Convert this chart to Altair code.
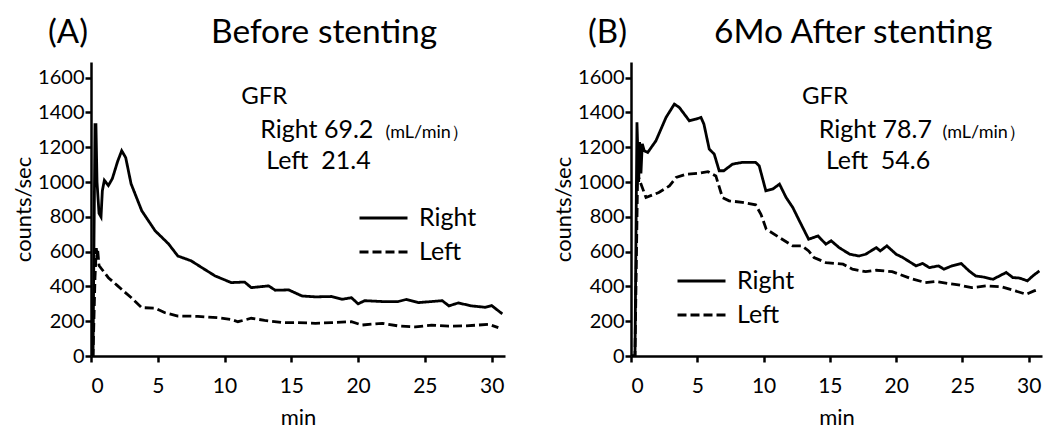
import altair as alt
import pandas as pd

# ---------- data ----------
# Panel A: before stenting
a_right_t = [0, 0.15, 0.3, 0.37, 0.45, 0.6, 0.75, 0.85, 1.0, 1.3, 1.6, 2.0, 2.3, 2.6, 3.0, 3.8, 4.8, 5.8,
             6.5, 7.5, 8.3, 9.3, 10.5, 11.5, 12.0, 13.3, 13.8, 14.8, 15.8, 16.8, 18.0, 18.8, 19.5, 20.0,
             20.5, 21.8, 23.0, 23.6, 24.5, 25.5, 26.3, 26.8, 27.5, 28.5, 29.5, 30.0, 30.8]
a_right_v = [0, 0, 1330, 1330, 1000, 820, 800, 950, 1010, 980, 1020, 1120, 1180, 1140, 990, 835, 720, 645,
             575, 547, 508, 460, 422, 425, 393, 403, 378, 380, 345, 340, 342, 326, 335, 300,
             318, 313, 313, 325, 307, 313, 318, 288, 305, 288, 280, 290, 242]
a_left_t = [0, 0.15, 0.3, 0.4, 0.45, 0.5, 0.6, 1.3, 2.0, 3.0, 3.8, 4.8, 5.5, 6.5, 8.0, 9.5, 10.5, 11.0,
            12.0, 13.0, 14.3, 15.5, 16.8, 18.0, 19.5, 20.3, 21.8, 23.0, 24.3, 25.5, 26.8, 28.0, 29.8, 30.5]
a_left_v = [0, 0, 450, 620, 560, 610, 520, 450, 403, 336, 278, 275, 250, 230, 228, 220, 210, 197,
            217, 205, 192, 192, 188, 192, 197, 178, 188, 173, 167, 178, 172, 173, 182, 163]

# Panel B: 6 months after stenting
b_right_t = [0, 0.3, 0.45, 0.58, 0.65, 0.75, 0.85, 1.0, 1.26, 1.88, 2.64, 3.27, 3.64, 4.4, 4.9, 5.28, 5.5,
             5.9, 6.28, 6.65, 7.0, 7.66, 8.4, 9.4, 9.67, 10.17, 10.7, 11.2, 11.7, 12.2, 12.7, 13.4, 14.1,
             14.7, 15.1, 15.7, 16.5, 17.2, 17.7, 18.5, 18.8, 19.3, 20.0, 20.5, 21.5, 22.0, 22.5, 23.2,
             23.6, 24.2, 24.9, 25.5, 26.0, 26.5, 27.3, 28.3, 28.8, 29.3, 29.9, 30.3, 30.8]
b_right_v = [0, 0, 1343, 1000, 1230, 1050, 1220, 1180, 1170, 1237, 1371, 1448, 1429, 1352, 1362, 1371, 1333,
             1190, 1160, 1065, 1065, 1103, 1113, 1113, 1093, 950, 960, 988, 911, 854, 777, 671, 690,
             643, 662, 623, 585, 575, 585, 623, 604, 633, 585, 566, 518, 532, 508, 518,
             499, 518, 532, 489, 460, 455, 441, 480, 451, 448, 432, 460, 489]
b_left_t = [0, 0.3, 0.5, 0.7, 1.13, 2.1, 2.9, 3.4, 4.15, 5.15, 5.8, 6.4, 6.9, 7.4, 8.4, 9.4, 9.8, 10.2,
            11.2, 12.2, 12.9, 13.4, 13.8, 14.7, 16.0, 16.7, 17.7, 18.5, 19.7, 21.0, 22.2, 23.0, 24.0,
            24.7, 25.7, 26.8, 28.0, 29.0, 29.8, 30.4, 30.8]
b_left_v = [0, 0, 1045, 1000, 911, 940, 978, 1026, 1045, 1051, 1060, 1035, 911, 892, 883, 869, 815, 729,
            681, 633, 633, 604, 566, 537, 528, 499, 485, 493, 485, 448, 422, 428, 416,
            409, 393, 403, 397, 374, 355, 374, 384]

series_names = ["Right", "Left"]
x_ticks = [0, 5, 10, 15, 20, 25, 30]
y_ticks = [0, 200, 400, 600, 800, 1000, 1200, 1400, 1600]

panel_labels = ["(A)", "(B)"]
panel_titles = ["Before stenting", "6Mo After stenting"]
gfr_right = ["Right 69.2", "Right 78.7"]
gfr_left = ["Left\u00a0\u00a021.4", "Left\u00a0\u00a054.6"]
unit_text = "(mL/min\uff09"

FONT = "Lato"


def make_df(rt, rv, lt, lv):
    d1 = pd.DataFrame({"t": rt, "v": rv, "series": series_names[0]})
    d2 = pd.DataFrame({"t": lt, "v": lv, "series": series_names[1]})
    return pd.concat([d1, d2], ignore_index=True)


def panel(df, idx, width, legend_x, legend_y, ann_x):
    xs = alt.Scale(domain=[0, 31], nice=False, zero=False)
    ys = alt.Scale(domain=[0, 1690], nice=False)
    xenc = alt.X("t:Q", scale=xs, title="min",
                 axis=alt.Axis(values=x_ticks, format="d"))
    yenc = alt.Y("v:Q", scale=ys, title="counts/sec",
                 axis=alt.Axis(values=y_ticks, format="d"))
    lines = alt.Chart(df).mark_line(strokeWidth=2.8, color="black", clip=True).encode(
        x=xenc,
        y=yenc,
        strokeDash=alt.StrokeDash(
            "series:N",
            scale=alt.Scale(domain=series_names, range=[[1, 0], [9, 4]]),
            legend=alt.Legend(orient="none", legendX=legend_x, legendY=legend_y, title=None,
                              symbolType="stroke", symbolSize=2304, symbolStrokeWidth=3,
                              symbolStrokeColor="black", labelFontSize=25, labelFont=FONT,
                              labelColor="black", labelOffset=10, rowPadding=0, clipHeight=34),
        ),
        order="t:Q",
    )
    ann = pd.DataFrame({
        "t": [ann_x[0], ann_x[1], ann_x[2], ann_x[3]],
        "v": [1450, 1255, 1255, 1076],
        "txt": ["GFR", gfr_right[idx], unit_text, gfr_left[idx]],
        "fs": [24, 25, 18, 25],
    })
    texts = alt.Chart(ann).mark_text(align="left", baseline="alphabetic", font=FONT, color="black").encode(
        x=xenc, y=yenc, text="txt:N",
        size=alt.Size("fs:Q", scale=None, legend=None),
    )
    lab = alt.Chart(pd.DataFrame({"s": [panel_labels[idx]]})).mark_text(
        align="left", baseline="alphabetic", font=FONT, fontSize=33, color="black"
    ).encode(x=alt.value(-43), y=alt.value(-19), text="s:N")
    ttl = alt.Chart(pd.DataFrame({"s": [panel_titles[idx]]})).mark_text(
        align="left", baseline="alphabetic", font=FONT, fontSize=33.5, color="black"
    ).encode(x=alt.value(120 if idx == 0 else 83), y=alt.value(-19), text="s:N")
    return alt.layer(lines, texts, lab, ttl).properties(width=width, height=294)


dfa = make_df(a_right_t, a_right_v, a_left_t, a_left_v)
dfb = make_df(b_right_t, b_right_v, b_left_t, b_left_v)

pa = panel(dfa, 0, 414, 267, 139, [11.25, 12.68, 22.05, 13.13])
pb = panel(dfb, 1, 411, 45, 202, [12.89, 14.17, 23.5, 14.7])

chart = alt.hconcat(
    pa, pb, spacing=47, background="white",
    padding={"left": 4, "top": 8, "right": 5, "bottom": 0},
).resolve_legend(
    strokeDash="independent"
).configure_axis(
    domainColor="black", domainWidth=2.5, tickColor="black", tickWidth=2.5, tickSize=6,
    labelFont=FONT, labelColor="black",
    titleFont=FONT, titleFontSize=22, titleFontWeight="normal", titleColor="black", grid=False,
).configure_axisX(
    labelFontSize=21, labelPadding=13, titlePadding=11,
).configure_axisY(
    labelFontSize=20, labelPadding=1, titlePadding=2,
).configure_view(stroke=None)

chart.save("out.html", embed_options={"renderer": "svg", "actions": False})
